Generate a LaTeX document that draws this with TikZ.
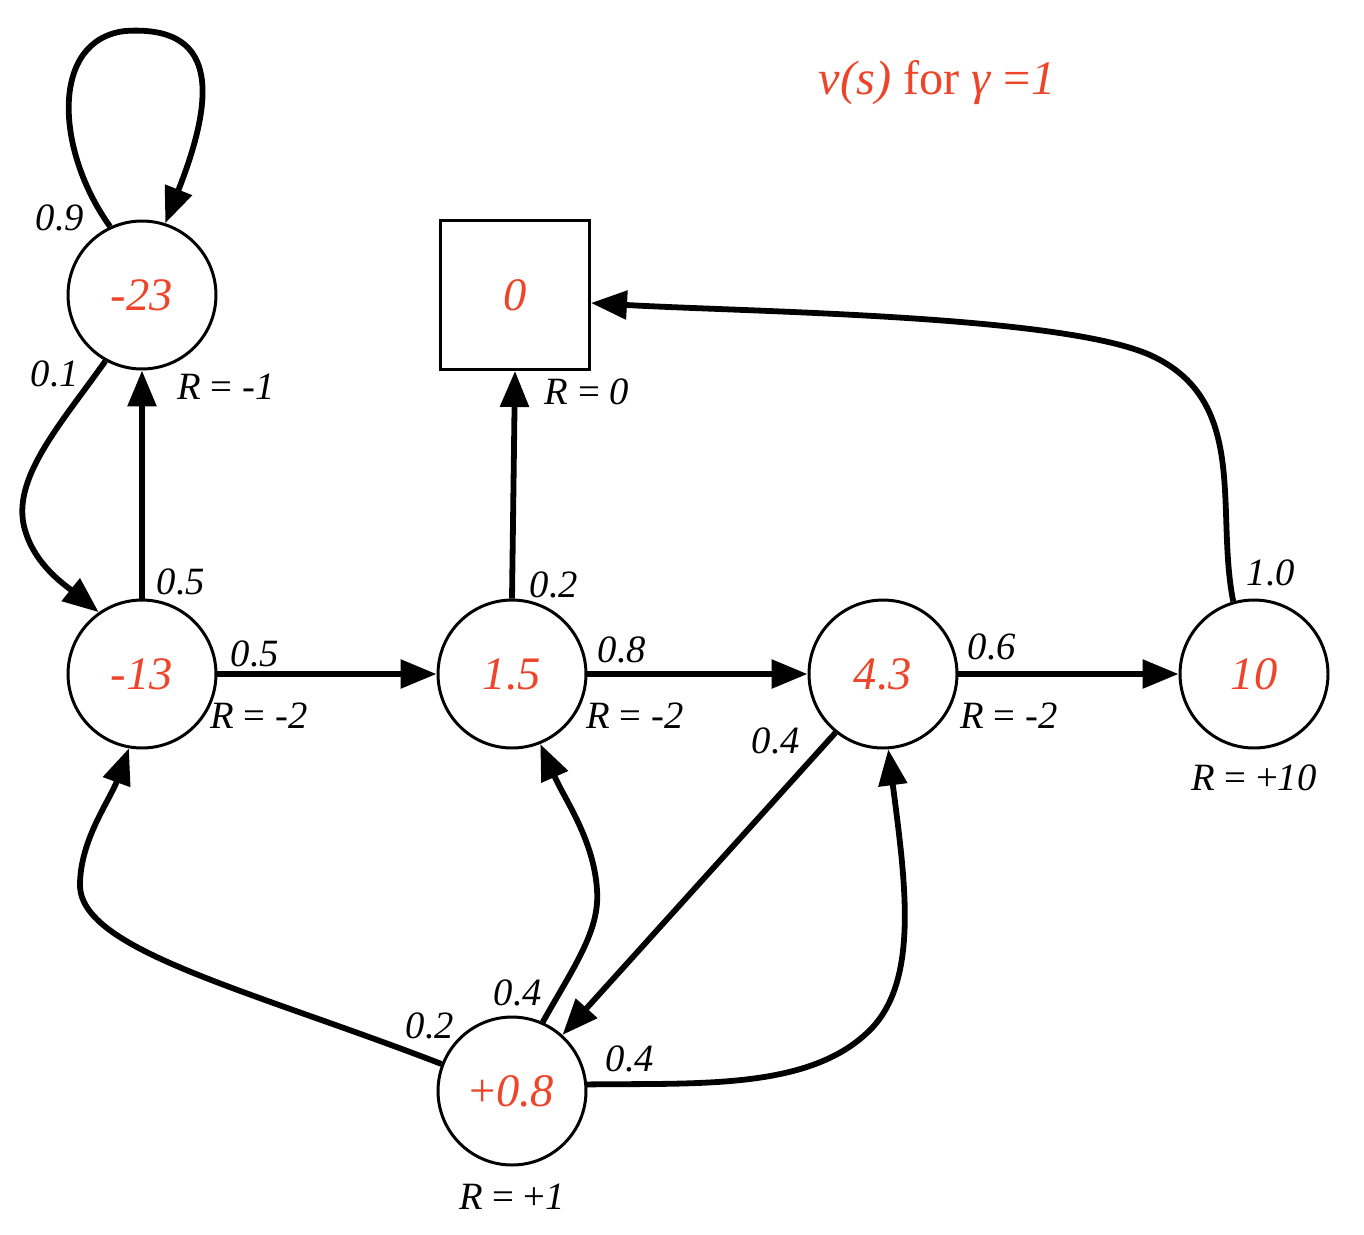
\documentclass[tikz,border=0pt]{standalone}
\usepackage{fontspec}
\setmainfont{Liberation Serif}
\usetikzlibrary{arrows.meta}
\definecolor{vred}{RGB}{238,68,42}
\begin{document}
\begin{tikzpicture}[x=0.02cm,y=-0.02cm,
  state/.style={circle,draw,line width=1.7pt,minimum size=2.96cm,inner sep=0pt,
    font=\fontsize{26.5}{30}\selectfont\itshape,text=vred},
  term/.style={rectangle,draw,line width=1.7pt,minimum size=2.98cm,inner sep=0pt,
    font=\fontsize{26.5}{30}\selectfont\itshape,text=vred},
  edge/.style={line width=3.3pt,-{Triangle[length=0.72cm,width=0.56cm]}},
  lab/.style={font=\fontsize{22}{26}\selectfont\itshape,inner sep=0pt},
  rew/.style={font=\fontsize{22}{26}\selectfont,inner sep=0pt}]
\useasboundingbox (0,0) rectangle (1364,1234);
% nodes
\node[state] (n23) at (142,295) {-23};
\node[term]  (n0)  at (515,295) {0};
\node[state] (n13) at (142,674) {-13};
\node[state] (n15) at (512,674) {1.5};
\node[state] (n43) at (883,674) {4.3};
\node[state] (n10) at (1254,674) {10};
\node[state] (n08) at (512,1091) {\upshape+\itshape0.8};
% title
\node[font=\fontsize{27.5}{32}\selectfont,text=vred,inner sep=0pt] (title) at (937,83) {\textit{v(s)} for \textit{γ} =\textit{1}};
% edges
\draw[edge] (n23.115) .. controls (55,150) and (50,40) .. (125,31) .. controls (215,25) and (218,90) .. (n23.72);
\draw[edge] (n23.241) .. controls (60,425) and (10,480) .. (25,530) .. controls (35,565) and (65,585) .. (n13.125);
\draw[edge] (n13.north) -- (n23.south);
\draw[edge] (n13.east) -- (n15.west);
\draw[edge] (n15.north) -- (n0.south);
\draw[edge] (n15.east) -- (n43.west);
\draw[edge] (n43.east) -- (n10.west);
\draw[edge] (n10.106) .. controls (1215,510) and (1250,400) .. (1150,355) .. controls (1060,315) and (750,312) .. (n0.-6);
\draw[edge] (n43.231) -- (n08.48);
\draw[edge] (n08.159) .. controls (250,990) and (80,950) .. (80,885) .. controls (80,840) and (110,800) .. (n13.-100);
\draw[edge] (n08.66) .. controls (575,965) and (600,930) .. (597,890) .. controls (594,840) and (565,800) .. (n15.-68);
\draw[edge] (n08.5) .. controls (700,1083) and (810,1090) .. (870,1030) .. controls (920,980) and (905,880) .. (n43.-86);
% probability labels
\node[lab] (p1) at (60,218) {0.9};
\node[lab] (p2) at (55,374) {0.1};
\node[lab] (p3) at (181,582) {0.5};
\node[lab] (p4) at (255,654) {0.5};
\node[lab] (p5) at (554,585) {0.2};
\node[lab] (p6) at (622,650) {0.8};
\node[lab] (p7) at (992,647) {0.6};
\node[lab] (p8) at (776,741) {0.4};
\node[lab] (p9) at (1271,573) {1.0};
\node[lab] (p10) at (518,993) {0.4};
\node[lab] (p11) at (430,1026) {0.2};
\node[lab] (p12) at (630,1059) {0.4};
% reward labels
\node[rew] (r1) at (226,387) {\textit{R} = \textit{-1}};
\node[rew] (r2) at (587,392) {\textit{R} = \textit{0}};
\node[rew] (r3) at (259,716) {\textit{R} = \textit{-2}};
\node[rew] (r4) at (635,716) {\textit{R} = \textit{-2}};
\node[rew] (r5) at (1009,716) {\textit{R} = \textit{-2}};
\node[rew] (r6) at (1254,778) {\textit{R} = +\textit{10}};
\node[rew] (r7) at (512,1197) {\textit{R} = +\textit{1}};
\end{tikzpicture}
\end{document}
